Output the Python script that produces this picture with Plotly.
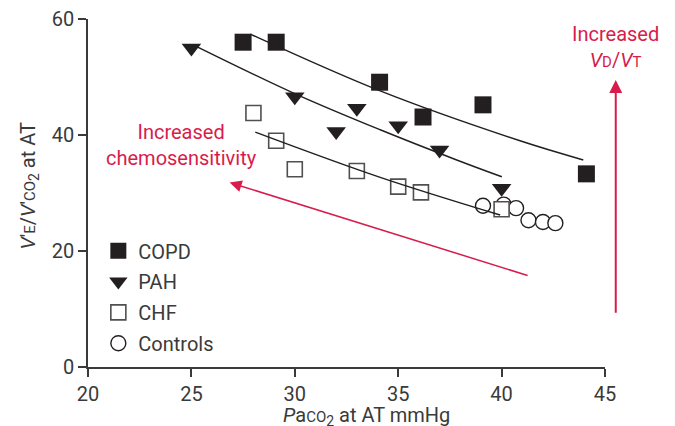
import plotly.graph_objects as go

# ---- data ----
copd_x = [27.5, 29.1, 34.1, 36.2, 39.1, 44.1]
copd_y = [56.0, 56.0, 49.1, 43.1, 45.2, 33.3]

pah_x = [25.0, 30.0, 32.0, 33.0, 35.0, 37.0, 40.0]
pah_y = [55.0, 46.6, 40.6, 44.6, 41.6, 37.4, 30.8]

chf_x = [28.0, 29.1, 30.0, 33.0, 35.0, 36.1, 40.0]
chf_y = [43.8, 39.0, 34.1, 33.8, 31.1, 30.1, 27.2]

ctrl_x = [39.1, 40.1, 40.7, 41.3, 42.0, 42.6]
ctrl_y = [27.8, 28.0, 27.4, 25.3, 25.0, 24.8]

# fitted curves
copd_fit_x = [27.85, 34.13, 40.89, 43.95]
copd_fit_y = [57.4, 47.6, 39.0, 35.7]
pah_fit_x = [25.28, 30.02, 34.13, 37.83, 40.01]
pah_fit_y = [55.2, 47.1, 40.9, 35.7, 32.8]
chf_fit_x = [28.09, 34.13, 39.93]
chf_fit_y = [40.5, 32.7, 26.2]

# arrows (tail -> head), data coordinates
chemo_arrow_tail = (41.33, 15.7)
chemo_arrow_head = (26.85, 31.8)
vdvt_arrow_x = 45.52
vdvt_arrow_tail_y = 9.1
vdvt_arrow_head_y = 49.5

x_ticks = [20, 25, 30, 35, 40, 45]
y_ticks = [0, 20, 40, 60]
X_RANGE = [20, 45]
Y_RANGE = [0, 60]

INK = "#231f20"
RED = "#d81c4c"
AXIS = "#3a3a3a"
FONT = "Roboto"


def xpaper(v):
    return (v - X_RANGE[0]) / (X_RANGE[1] - X_RANGE[0])


fig = go.Figure()

# draw order: controls, CHF, PAH, COPD ; legend order via legendrank
fig.add_trace(go.Scatter(
    x=ctrl_x, y=ctrl_y, mode="markers", name="Controls", legendgroup="d",
    legendrank=4,
    marker=dict(symbol="circle", size=15, color="white",
                line=dict(color=INK, width=1.4)),
    cliponaxis=False))
fig.add_trace(go.Scatter(
    x=chf_x, y=chf_y, mode="markers", name="CHF", legendgroup="c",
    legendrank=3,
    marker=dict(symbol="square", size=15, color="white",
                line=dict(color="#505050", width=1.6)),
    cliponaxis=False))
fig.add_trace(go.Scatter(
    x=pah_x, y=pah_y, mode="markers", name="PAH", legendgroup="b",
    legendrank=2,
    marker=dict(symbol="triangle-down", size=17, color=INK,
                line=dict(width=0)),
    cliponaxis=False))
fig.add_trace(go.Scatter(
    x=copd_x, y=copd_y, mode="markers", name="COPD", legendgroup="a",
    legendrank=1,
    marker=dict(symbol="square", size=17, color=INK, line=dict(width=0)),
    cliponaxis=False))

for fx, fy in [(copd_fit_x, copd_fit_y), (pah_fit_x, pah_fit_y), (chf_fit_x, chf_fit_y)]:
    fig.add_trace(go.Scatter(
        x=fx, y=fy, mode="lines", showlegend=False, hoverinfo="skip",
        line=dict(color=INK, width=1.5, shape="spline", smoothing=1.0),
        cliponaxis=False))

# arrows
fig.add_annotation(x=chemo_arrow_head[0], y=chemo_arrow_head[1],
                   ax=chemo_arrow_tail[0], ay=chemo_arrow_tail[1],
                   xref="x", yref="y", axref="x", ayref="y",
                   text="", showarrow=True, arrowhead=2, arrowsize=1.6,
                   arrowwidth=1.5, arrowcolor=RED)
fig.add_annotation(x=xpaper(vdvt_arrow_x), y=vdvt_arrow_head_y,
                   ax=0, ay=vdvt_arrow_tail_y,
                   xref="paper", yref="y", axref="pixel", ayref="y",
                   text="", showarrow=True, arrowhead=2, arrowsize=1.3,
                   arrowwidth=2, arrowcolor=RED)

# red text labels
fig.add_annotation(x=24.5, y=38.2, xref="x", yref="y", showarrow=False,
                   text="Increased<br>chemosensitivity",
                   font=dict(family=FONT, size=20, color=RED), align="center")
fig.add_annotation(x=xpaper(45.5), y=55.2, xref="paper", yref="y", showarrow=False,
                   xanchor="center", yanchor="middle",
                   text="Increased<br><i>V</i><span style='font-size:15px'>D</span>/<i>V</i><span style='font-size:15px'>T</span>",
                   font=dict(family=FONT, size=20, color=RED), align="center")

# axis titles
fig.add_annotation(x=(366 - 87.5) / 517.8, y=-0.098, xref="paper", yref="paper",
                   showarrow=False, yanchor="top", xanchor="center",
                   text="<i>P</i>a<span style='font-size:15px'>CO</span><sub>2</sub> at AT mmHg",
                   font=dict(family=FONT, size=20, color=AXIS))
fig.add_annotation(x=-0.115, y=0.52, xref="paper", yref="paper",
                   showarrow=False, textangle=-90, xanchor="center", yanchor="middle",
                   text="<i>V</i>'<span style='font-size:15px'>E</span>/<i>V</i>'<span style='font-size:15px'>CO</span><sub>2</sub> at AT",
                   font=dict(family=FONT, size=20, color=AXIS))

axis_common = dict(showgrid=False, zeroline=False, showline=True,
                   linecolor=AXIS, linewidth=1.5, ticks="outside",
                   ticklen=8, tickwidth=1.5, tickcolor=AXIS,
                   tickfont=dict(family=FONT, size=20, color=AXIS))

fig.update_xaxes(range=X_RANGE, tickvals=x_ticks, **axis_common)
fig.update_yaxes(range=Y_RANGE, tickvals=y_ticks, **axis_common)

fig.update_layout(
    width=675, height=426,
    margin=dict(l=87.5, r=69.7, t=19, b=59, autoexpand=False),
    paper_bgcolor="white", plot_bgcolor="white",
    font=dict(family=FONT, size=20, color=AXIS),
    showlegend=True,
    legend=dict(x=0.02, y=0.39, xanchor="left", yanchor="top",
                traceorder="grouped", tracegroupgap=1.8,
                bgcolor="rgba(0,0,0,0)", borderwidth=0,
                font=dict(family=FONT, size=20, color=AXIS)),
)

fig.write_html("out.html", config={"displayModeBar": False},
               post_script="document.body.style.margin='0';document.body.style.overflow='hidden';")
